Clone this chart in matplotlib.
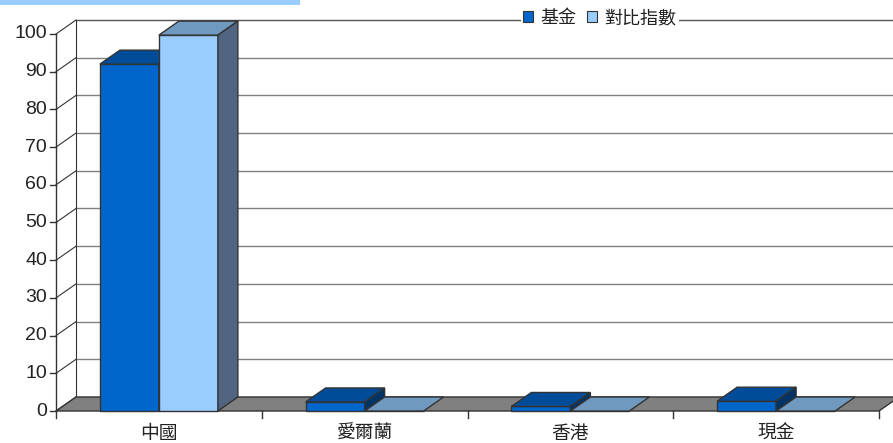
import matplotlib
matplotlib.use('Agg')
import matplotlib.pyplot as plt
from matplotlib.patches import Polygon, Rectangle, Patch

plt.rcParams['font.family'] = ['Noto Sans CJK TC', 'DejaVu Sans']

# 數據
categories = ['中國', '愛爾蘭', '香港', '現金']
fund = [92.0, 2.4, 1.2, 2.6]
index = [99.7, 0.0, 0.0, 0.0]
series_names = ['基金', '對比指數']
yticks = [0, 10, 20, 30, 40, 50, 60, 70, 80, 90, 100]

# 顏色 (front, top, side)
fund_col = ('#0066cc', '#004c99', '#003366')
index_col = ('#99ccff', '#7099c0', '#4f6580')
edge = '#333333'

W, H = 893, 443
fig = plt.figure(figsize=(W / 100, H / 100), dpi=100)
ax = fig.add_axes([0, 0, 1, 1])

# 像素 -> 數據的比例
cat_px = 205.75
val_px = 3.77
x0_px, y0_px = 56, 411
ax.set_xlim(-0.5 - x0_px / cat_px, -0.5 + (W - x0_px) / cat_px)
ax.set_ylim((y0_px - H) / val_px, y0_px / val_px)
ax.axis('off')

dx = 20 / cat_px   # 深度偏移
dy = 14 / val_px
bw = 59 / cat_px
n = len(categories)
left, right = -0.5, n - 0.5

# 頂部淺藍條
ax.add_patch(Rectangle((ax.get_xlim()[0], (y0_px - 5) / val_px), 300 / cat_px, 10,
                       facecolor='#99ccff', edgecolor='none', zorder=1))

# 背牆網格線 + 左牆斜線
for t in yticks:
    c = '#555555' if t == yticks[-1] else '#808080'
    ax.plot([left + dx, right + dx + 1], [t + dy, t + dy], color=c, lw=1, zorder=2)
    ax.plot([left, left + dx], [t, t + dy], color=edge, lw=0.8, zorder=2)
ax.plot([left + dx, left + dx], [dy, yticks[-1] + dy], color=edge, lw=0.8, zorder=2)

# y 軸
ax.plot([left, left], [0, yticks[-1]], color=edge, lw=1, zorder=3)
for t in yticks:
    ax.plot([left - 6 / cat_px, left], [t, t], color=edge, lw=1, zorder=3)
    ax.text(left - 9 / cat_px, t, str(t), ha='right', va='center', fontsize=14,
            family='Liberation Sans', color='#222222')

# 地板
ax.add_patch(Polygon([(left, 0), (right, 0), (right + dx, dy), (left + dx, dy)],
                     closed=True, facecolor='#808080', edgecolor=edge, lw=1, zorder=3))

# x 軸刻度與標籤
for i in range(n + 1):
    ax.plot([left + i, left + i], [0, -7 / val_px], color=edge, lw=1, zorder=3)
for i, c in enumerate(categories):
    ax.text(i, -22 / val_px, c, ha='center', va='center', fontsize=13.5, color='#222222')


def bar3d(x, v, cols, z):
    front, top, side = cols
    ax.add_patch(Polygon([(x, 0), (x + bw, 0), (x + bw, v), (x, v)], closed=True,
                         facecolor=front, edgecolor=edge, lw=1, zorder=z))
    ax.add_patch(Polygon([(x, v), (x + bw, v), (x + bw + dx, v + dy), (x + dx, v + dy)],
                         closed=True, facecolor=top, edgecolor=edge, lw=1, zorder=z))
    if v > 0:
        ax.add_patch(Polygon([(x + bw, 0), (x + bw + dx, dy), (x + bw + dx, v + dy), (x + bw, v)],
                             closed=True, facecolor=side, edgecolor=edge, lw=1, zorder=z))


for i in range(n):
    bar3d(i - bw, fund[i], fund_col, 4)
    bar3d(i, index[i], index_col, 5)

# 圖例
handles = [Patch(facecolor=fund_col[0], edgecolor=edge, lw=0.8),
           Patch(facecolor=index_col[0], edgecolor=edge, lw=0.8)]
leg = fig.legend(handles, series_names, loc='center', bbox_to_anchor=(600 / W, 1 - 18 / H),
                 ncol=2, frameon=True, fontsize=13, handlelength=0.55, handleheight=0.55,
                 handletextpad=0.4, columnspacing=0.6, borderpad=0.15, borderaxespad=0)
leg.get_frame().set_facecolor('white')
leg.get_frame().set_edgecolor('none')
leg.get_frame().set_alpha(1)
for t in leg.get_texts():
    t.set_color('#222222')

fig.savefig('out.png', dpi=100)
